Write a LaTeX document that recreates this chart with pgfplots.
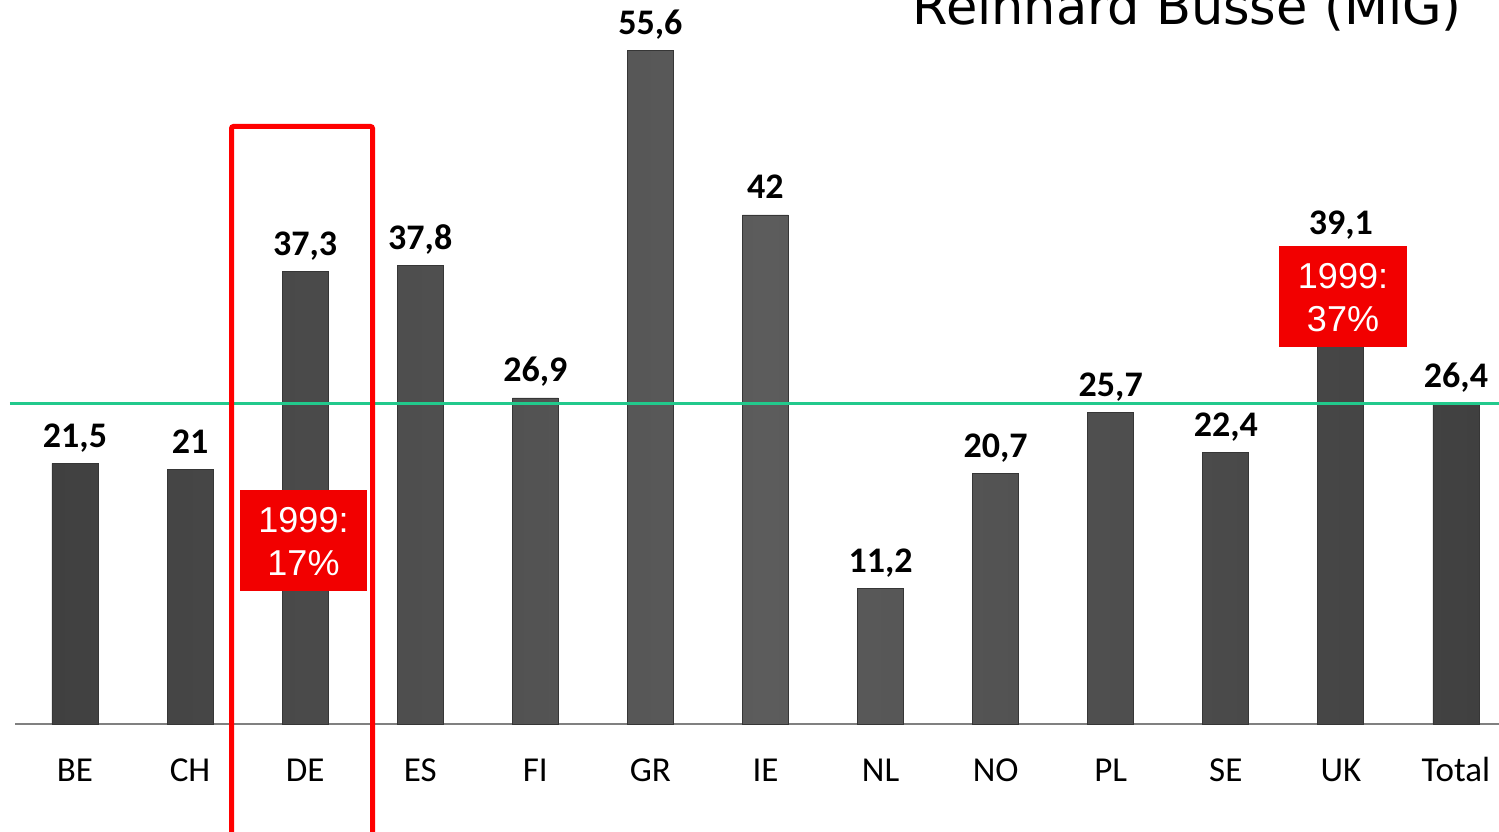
\documentclass[border=0pt]{standalone}
\usepackage{pgfplots}
\usepackage{pgfplotstable}
\pgfplotsset{compat=1.18}
\usepackage{fontspec}
\setmainfont{Carlito}
\newfontfamily\dejavu{DejaVu Sans}
\newfontfamily\arial{Liberation Sans}
\definecolor{bardark}{HTML}{404040}
\definecolor{barmid}{HTML}{5C5C5C}
\definecolor{bardraw}{HTML}{363636}
\definecolor{avggreen}{HTML}{22C98C}
\definecolor{boxred}{HTML}{F20000}
\definecolor{axisgray}{HTML}{808080}
\pgfplotstableread{
x y label
0 21.5 {21,5}
1 21.0 {21}
2 37.3 {37,3}
3 37.8 {37,8}
4 26.9 {26,9}
5 55.6 {55,6}
6 42.0 {42}
7 11.2 {11,2}
8 20.7 {20,7}
9 25.7 {25,7}
10 22.4 {22,4}
11 39.1 {39,1}
12 26.4 {26,4}
}\data
\newcommand{\px}[2]{({(#1)*0.5pt},{(831-(#2))*0.5pt})}
\begin{document}
\begin{tikzpicture}
\useasboundingbox (0,0) rectangle (749.5pt,415.5pt);
\begin{axis}[
  at={(7.5pt,53.5pt)}, anchor=south west,
  scale only axis, width=742pt, height=362pt,
  xmin=-0.5213, xmax=12.374, ymin=0, ymax=59.73,
  axis x line*=bottom, axis y line=none,
  x axis line style={axisgray, line width=1pt, -},
  xtick={0,...,12},
  xticklabels={BE,CH,DE,ES,FI,GR,IE,NL,NO,PL,SE,UK,Total},
  major tick length=0pt,
  xticklabel style={font=\fontsize{17.5}{20}\selectfont, anchor=base, yshift=-28.5pt},
  ytick=\empty,
  clip=false,
  ybar, bar width=23pt,
  nodes near coords,
  point meta=explicit symbolic,
  every node near coord/.append style={font=\bfseries\fontsize{18}{20}\selectfont, anchor=base, yshift=8pt, black},
]
\addplot[draw=bardraw, line width=0.4pt, shading=axis, left color=bardark, right color=bardark, middle color=barmid, shading angle=90]
  table[x=x, y=y, meta=label] {\data};
\draw[avggreen, line width=1.2pt] (axis cs:-0.565,26.45) -- (axis cs:12.374,26.45);
\end{axis}
% red boxes
\fill[boxred] \px{240}{490} rectangle \px{367}{591};
\node[white, font=\arial\fontsize{18}{21.5}\selectfont, align=center, inner sep=0pt] at \px{303.5}{542} {1999:\\17\%};
\fill[boxred] \px{1279}{246} rectangle \px{1407}{347};
\node[white, font=\arial\fontsize{18}{21.5}\selectfont, align=center, inner sep=0pt] at \px{1343}{298} {1999:\\37\%};
% outline
\draw[red, line width=2.5pt, rounded corners=1pt] \px{231.5}{126.5} rectangle \px{372.5}{860};
% title
\node[anchor=base east, inner sep=0pt, font=\dejavu\fontsize{25.5}{30}\selectfont] at \px{1462}{25} {Reinhard Busse (MiG)};
\end{tikzpicture}
\end{document}
